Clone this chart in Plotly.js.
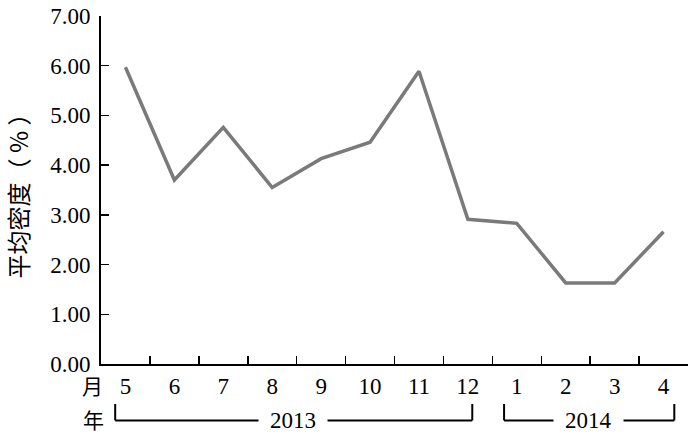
<!DOCTYPE html>
<html>
<head>
<meta charset="utf-8">
<script src="https://cdn.plot.ly/plotly-3.0.1.min.js"></script>
<style>
  body { margin: 0; background: #fff; }
  #plot { width: 700px; height: 437px; }
</style>
</head>
<body>
<div id="plot"></div>
<script>
// month labels (May 2013 .. Apr 2014) and average density values
let months = ['5', '6', '7', '8', '9', '10', '11', '12', '1', '2', '3', '4'];
let density = [5.97, 3.70, 4.76, 3.55, 4.13, 4.46, 5.89, 2.91, 2.83, 1.63, 1.63, 2.66];
let yTicks = [0, 1, 2, 3, 4, 5, 6, 7];

let serif = 'Liberation Serif, Times New Roman, serif';
let cjk = 'Noto Sans CJK SC';

let trace = {
    x: months,
    y: density,
    type: 'scatter',
    mode: 'lines',
    line: {color: '#7a7a7a', width: 3.5},
    hoverinfo: 'skip'
};

let data = [trace];

// year brackets under the month labels
let lineStyle = {color: '#000', width: 2};
let shapes = [
    // 2013
    {type: 'line', xref: 'x', yref: 'paper', x0: -0.21, x1: -0.21, y0: -0.115, y1: -0.162, line: lineStyle},
    {type: 'line', xref: 'x', yref: 'paper', x0: -0.21, x1: 7.09, y0: -0.162, y1: -0.162, line: lineStyle},
    {type: 'line', xref: 'x', yref: 'paper', x0: 7.09, x1: 7.09, y0: -0.115, y1: -0.162, line: lineStyle},
    // 2014
    {type: 'line', xref: 'x', yref: 'paper', x0: 7.74, x1: 7.74, y0: -0.115, y1: -0.162, line: lineStyle},
    {type: 'line', xref: 'x', yref: 'paper', x0: 7.74, x1: 11.22, y0: -0.162, y1: -0.162, line: lineStyle},
    {type: 'line', xref: 'x', yref: 'paper', x0: 11.22, x1: 11.22, y0: -0.115, y1: -0.162, line: lineStyle}
];

let annotations = [
    {text: '月', xref: 'paper', yref: 'paper', x: -0.014, y: -0.06, xanchor: 'center', yanchor: 'middle',
     showarrow: false, font: {family: cjk, size: 21, color: '#000'}},
    {text: '年', xref: 'paper', yref: 'paper', x: -0.012, y: -0.158, xanchor: 'center', yanchor: 'middle',
     showarrow: false, font: {family: cjk, size: 21, color: '#000'}},
    {text: '2013', xref: 'x', yref: 'paper', x: 3.43, y: -0.162, xanchor: 'center', yanchor: 'middle',
     showarrow: false, bgcolor: '#fff', borderpad: 11, font: {family: serif, size: 23, color: '#000'}},
    {text: '2014', xref: 'x', yref: 'paper', x: 9.46, y: -0.162, xanchor: 'center', yanchor: 'middle',
     showarrow: false, bgcolor: '#fff', borderpad: 11, font: {family: serif, size: 23, color: '#000'}}
];

let layout = {
    width: 700,
    height: 437,
    margin: {l: 101, r: 12, t: 16, b: 73},
    paper_bgcolor: '#fff',
    plot_bgcolor: '#fff',
    showlegend: false,
    xaxis: {
        type: 'category',
        range: [-0.5, 11.5],
        tickson: 'boundaries',
        ticks: 'inside',
        ticklen: 8,
        tickwidth: 1.5,
        tickcolor: '#000',
        showgrid: false,
        zeroline: false,
        showline: true,
        linecolor: '#000',
        linewidth: 2,
        tickfont: {family: serif, size: 23, color: '#000'},
        fixedrange: true
    },
    yaxis: {
        range: [0, 7],
        tickvals: yTicks,
        tickformat: '.2f',
        ticks: 'inside',
        ticklen: 8,
        tickwidth: 1.5,
        tickcolor: '#000',
        showgrid: false,
        zeroline: false,
        showline: true,
        linecolor: '#000',
        linewidth: 2,
        ticklabelstandoff: 4,
        tickfont: {family: serif, size: 23, color: '#000'},
        title: {
            text: '平均密度（ % ）',
            standoff: 18,
            font: {family: cjk, size: 24, color: '#000'}
        },
        fixedrange: true
    },
    shapes: shapes,
    annotations: annotations
};

Plotly.newPlot('plot', data, layout, {staticPlot: true});
</script>
</body>
</html>
